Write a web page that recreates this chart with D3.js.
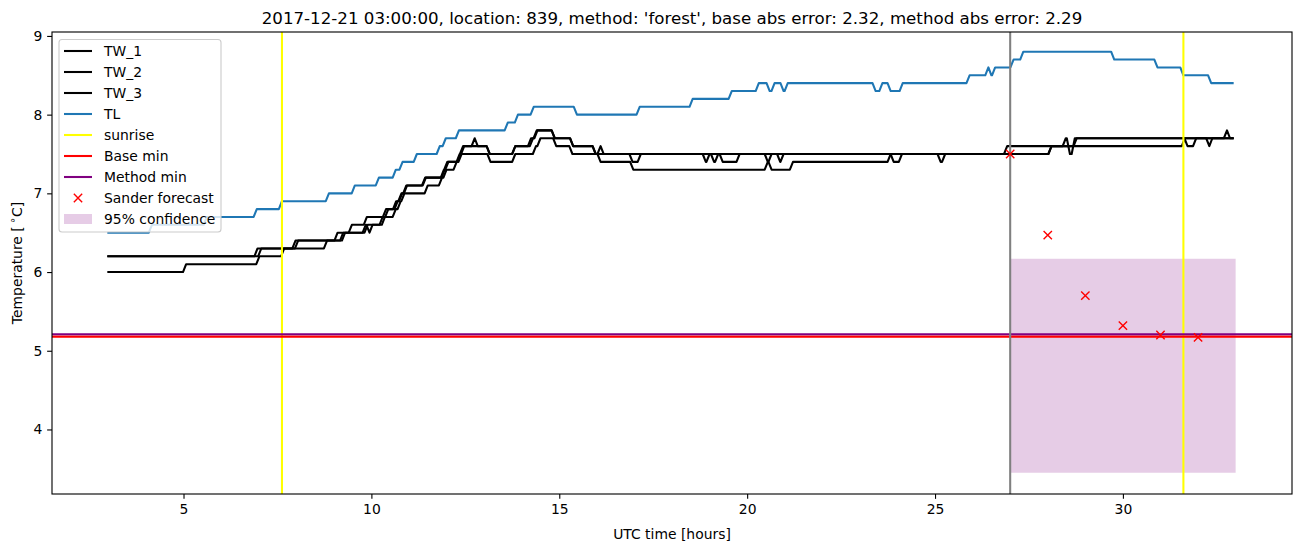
<!DOCTYPE html>
<html><head><meta charset="utf-8">
<script src="https://cdn.jsdelivr.net/npm/d3@7"></script>
<style>
html,body{margin:0;padding:0;background:#fff;}
svg{display:block;font-family:"DejaVu Sans",sans-serif;}
</style>
</head><body>
<svg id="chart" width="1302" height="547"></svg>
<script>
// ---------------- data ----------------
const titleText = "2017-12-21 03:00:00, location: 839, method: 'forest', base abs error: 2.32, method abs error: 2.29";
const xTicks = [5, 10, 15, 20, 25, 30];
const yTicks = [4, 5, 6, 7, 8, 9];
const xLabel = "UTC time [hours]";
const legendLabels = ["TW_1", "TW_2", "TW_3", "TL", "sunrise", "Base min", "Method min", "Sander forecast", "95% confidence"];

// change points of each 5-minute series: [hour, value that starts at that hour]
const tw1 = [[3,6.2],[6.97,6.3],[7.98,6.4],[9.1,6.5],[9.48,6.6],[9.88,6.7],[10.39,6.8],[10.66,6.9],[10.8,7.0],[10.93,7.1],[11.43,7.2],[11.93,7.3],[12.02,7.4],[12.35,7.5],[12.44,7.6],[12.75,7.7],[12.83,7.6],[13.15,7.5],[13.83,7.6],[14.25,7.7],[14.4,7.8],[14.88,7.7],[15.37,7.6],[15.97,7.5],[16.1,7.6],[16.18,7.5],[16.95,7.4],[17.17,7.5],[20.88,7.4],[20.97,7.5],[23.9,7.4],[24.12,7.5],[25.15,7.4],[25.27,7.5],[26.92,7.6],[28.77,7.7],[31.72,7.6],[31.95,7.7],[32.3,7.6],[32.38,7.7],[32.77,7.8],[32.85,7.7]];
const tw2 = [[3,6.2],[7.07,6.3],[8.05,6.4],[9.3,6.5],[9.85,6.6],[9.95,6.5],[10.03,6.6],[10.36,6.7],[10.65,6.8],[10.78,6.9],[10.88,7.0],[11.5,7.1],[11.88,7.2],[12.0,7.3],[12.27,7.4],[12.4,7.5],[13.17,7.4],[13.83,7.5],[14.38,7.6],[14.5,7.7],[14.92,7.6],[15.35,7.5],[16.1,7.4],[16.97,7.3],[20.55,7.4],[20.65,7.5],[28.1,7.6],[31.65,7.7]];
const tw3 = [[3,6.0],[5.07,6.1],[7.02,6.2],[7.68,6.3],[8.82,6.4],[9.25,6.5],[9.9,6.6],[10.3,6.7],[10.45,6.8],[10.7,6.9],[10.82,7.0],[10.95,7.1],[11.45,7.2],[11.95,7.3],[12.05,7.4],[12.37,7.5],[12.47,7.6],[13.15,7.5],[13.83,7.6],[14.3,7.7],[14.42,7.8],[14.88,7.7],[15.37,7.6],[15.97,7.5],[18.9,7.4],[19.0,7.5],[19.12,7.4],[19.23,7.5],[19.35,7.4],[19.8,7.5],[20.55,7.4],[20.65,7.3],[21.22,7.4],[23.82,7.5],[28.1,7.6],[28.48,7.7],[28.59,7.5],[28.72,7.7]];
const tl  = [[3,6.5],[4.16,6.6],[5.62,6.7],[6.95,6.8],[7.62,6.9],[8.87,7.0],[9.56,7.1],[10.2,7.2],[10.65,7.3],[10.83,7.4],[11.21,7.5],[11.82,7.6],[11.98,7.7],[12.33,7.8],[13.63,7.9],[13.9,8.0],[14.32,8.1],[15.47,8.0],[17.14,8.1],[18.55,8.2],[19.59,8.3],[20.31,8.4],[20.6,8.3],[20.73,8.4],[20.97,8.3],[21.08,8.4],[23.42,8.3],[23.6,8.4],[23.82,8.3],[24.14,8.4],[25.92,8.5],[26.42,8.6],[26.5,8.5],[26.6,8.6],[27.09,8.7],[27.35,8.8],[29.77,8.7],[30.92,8.6],[31.61,8.5],[32.35,8.4]];
const seriesEnd = 32.92;          // last sample hour
const sampleStep = 1 / 12;        // 5 minutes

const sunriseHours = [7.62, 31.61];
const forecastHour = 27;
const baseMin = 5.18;
const methodMin = 5.21;
const sanderHours  = [27, 28, 29, 30, 31, 32];
const sanderValues = [7.50, 6.47, 5.70, 5.32, 5.20, 5.17];
const confHours = [27, 33];
const confLow  = [3.45, 3.45];
const confHigh = [6.17, 6.17];

// ---------------- drawing ----------------
const svg = d3.select("#chart");
const L = 52, R = 1292, T = 32, B = 494;
const x = d3.scaleLinear().domain([1.5, 34.5]).range([L, R]);
const y = d3.scaleLinear().domain([3.18, 9.05]).range([B, T]);

const lw = 2.08;

function verts(cp) {
  const pts = [[cp[0][0], cp[0][1]]];
  for (let i = 1; i < cp.length; i++) {
    const prev = pts[pts.length - 1][0];
    pts.push([Math.max(prev, cp[i][0] - sampleStep), cp[i - 1][1]]);
    pts.push([cp[i][0], cp[i][1]]);
  }
  pts.push([seriesEnd, cp[cp.length - 1][1]]);
  return pts;
}
const line = d3.line().x(d => x(d[0])).y(d => y(d[1]));

const plot = svg.append("g");
plot.append("clipPath").attr("id", "clip").append("rect")
  .attr("x", L).attr("y", T).attr("width", R - L).attr("height", B - T);
const g = plot.append("g").attr("clip-path", "url(#clip)");

// confidence band (patch, below lines)
const area = d3.area().x(d => x(d.h)).y0(d => y(d.lo)).y1(d => y(d.hi));
g.append("path")
  .datum(confHours.map((h, i) => ({h, lo: confLow[i], hi: confHigh[i]})))
  .attr("d", area).attr("fill", "purple").attr("fill-opacity", 0.2);

[tw1, tw2, tw3].forEach(s => {
  g.append("path").datum(verts(s)).attr("d", line)
    .attr("fill", "none").attr("stroke", "black").attr("stroke-width", lw)
    .attr("stroke-linejoin", "round").attr("stroke-linecap", "square");
});
g.append("path").datum(verts(tl)).attr("d", line)
  .attr("fill", "none").attr("stroke", "#1f77b4").attr("stroke-width", lw)
  .attr("stroke-linejoin", "round").attr("stroke-linecap", "square");

sunriseHours.forEach(h => {
  g.append("line").attr("x1", x(h)).attr("x2", x(h)).attr("y1", T).attr("y2", B)
    .attr("stroke", "yellow").attr("stroke-width", lw);
});
g.append("line").attr("x1", L).attr("x2", R).attr("y1", y(baseMin)).attr("y2", y(baseMin))
  .attr("stroke", "red").attr("stroke-width", lw);
g.append("line").attr("x1", L).attr("x2", R).attr("y1", y(methodMin)).attr("y2", y(methodMin))
  .attr("stroke", "purple").attr("stroke-width", lw);
g.append("line").attr("x1", x(forecastHour)).attr("x2", x(forecastHour)).attr("y1", T).attr("y2", B)
  .attr("stroke", "gray").attr("stroke-width", lw);

const ms = 4.17;
function xMarker(sel, cx, cy) {
  sel.append("path")
    .attr("d", `M${cx - ms},${cy - ms}L${cx + ms},${cy + ms}M${cx - ms},${cy + ms}L${cx + ms},${cy - ms}`)
    .attr("stroke", "red").attr("stroke-width", 1.39).attr("fill", "none");
}
sanderHours.forEach((h, i) => xMarker(g, x(h), y(sanderValues[i])));

// axes
const fs = 13.9;
const xAxis = d3.axisBottom(x).tickValues(xTicks).tickSize(4.86).tickPadding(4.86).tickSizeOuter(0)
  .tickFormat(d3.format("d"));
const yAxis = d3.axisLeft(y).tickValues(yTicks).tickSize(4.86).tickPadding(4.86).tickSizeOuter(0)
  .tickFormat(d3.format("d"));
const gx = svg.append("g").attr("transform", `translate(0,${B})`).call(xAxis);
const gy = svg.append("g").attr("transform", `translate(${L},0)`).call(yAxis);
[gx, gy].forEach(a => {
  a.select(".domain").remove();
  a.selectAll("line").attr("stroke", "black").attr("stroke-width", 1.11);
  a.selectAll("text").attr("font-family", "DejaVu Sans").attr("font-size", fs).attr("fill", "black");
});

svg.append("rect").attr("x", L).attr("y", T).attr("width", R - L).attr("height", B - T)
  .attr("fill", "none").attr("stroke", "black").attr("stroke-width", 1.11);

// labels
svg.append("text").attr("x", (L + R) / 2).attr("y", 539).attr("text-anchor", "middle")
  .attr("font-size", fs).text(xLabel);
const yl = svg.append("text").attr("transform", `translate(22,${(T + B) / 2}) rotate(-90)`)
  .attr("text-anchor", "middle").attr("font-size", fs);
yl.append("tspan").text("Temperature [\u2009");
yl.append("tspan").attr("font-size", fs * 0.75).attr("baseline-shift", "super").text("∘");
yl.append("tspan").text("C]");
svg.append("text").attr("x", (L + R) / 2).attr("y", 24).attr("text-anchor", "middle")
  .attr("font-size", 16.67).text(titleText);

// legend
const lg = svg.append("g");
lg.append("rect").attr("x", 59).attr("y", 39.5).attr("width", 162).attr("height", 192.5)
  .attr("rx", 3).attr("fill", "white").attr("fill-opacity", 0.8)
  .attr("stroke", "#cccccc").attr("stroke-width", 1.11);
const legendStyles = [
  {type: "line", color: "black"}, {type: "line", color: "black"}, {type: "line", color: "black"},
  {type: "line", color: "#1f77b4"}, {type: "line", color: "yellow"}, {type: "line", color: "red"},
  {type: "line", color: "purple"}, {type: "marker"}, {type: "patch"}
];
legendLabels.forEach((lab, i) => {
  const cy = 51 + i * 21;
  const st = legendStyles[i];
  if (st.type === "line") {
    lg.append("line").attr("x1", 64).attr("x2", 92).attr("y1", cy).attr("y2", cy)
      .attr("stroke", st.color).attr("stroke-width", lw);
  } else if (st.type === "marker") {
    xMarker(lg, 78, cy);
  } else {
    lg.append("rect").attr("x", 64).attr("y", cy - 5).attr("width", 28).attr("height", 10)
      .attr("fill", "purple").attr("fill-opacity", 0.2);
  }
  lg.append("text").attr("x", 104).attr("y", cy + 5).attr("font-size", fs).text(lab);
});
</script>
</body></html>
